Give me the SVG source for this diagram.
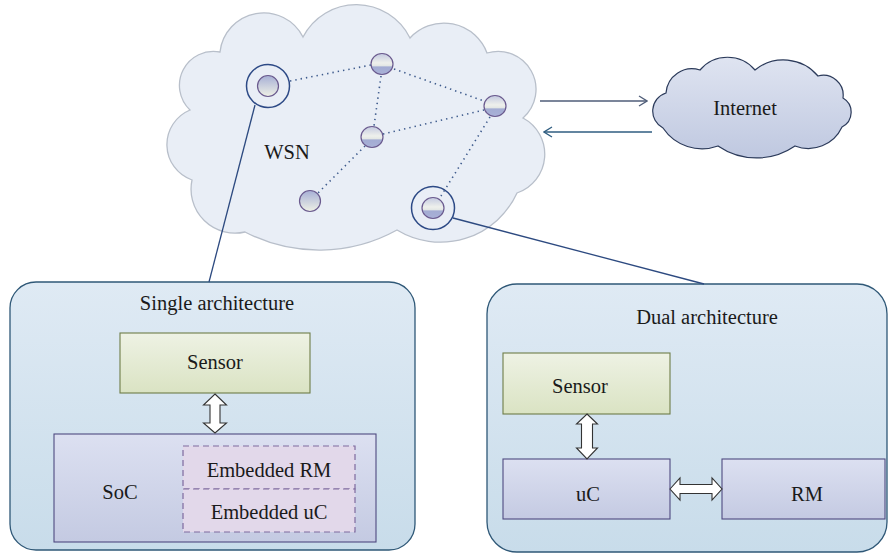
<svg xmlns="http://www.w3.org/2000/svg" width="888" height="554" viewBox="0 0 888 554">
<defs>
<linearGradient id="gArch" x1="0" y1="0" x2="0" y2="1"><stop offset="0" stop-color="#dfeaf4"/><stop offset="1" stop-color="#c8dcea"/></linearGradient>
<linearGradient id="gSensor" x1="0" y1="0" x2="0" y2="1"><stop offset="0" stop-color="#eef2e4"/><stop offset="1" stop-color="#dae3c3"/></linearGradient>
<linearGradient id="gChip" x1="0" y1="0" x2="0" y2="1"><stop offset="0" stop-color="#dce0f1"/><stop offset="1" stop-color="#c4cae2"/></linearGradient>
<linearGradient id="gInet" x1="0" y1="0" x2="0" y2="1"><stop offset="0" stop-color="#dfe4f1"/><stop offset="1" stop-color="#bfc8e0"/></linearGradient>
<linearGradient id="gNodeA" x1="0" y1="0" x2="0" y2="1"><stop offset="0" stop-color="#a6afd5"/><stop offset="1" stop-color="#eff1e6"/></linearGradient>
<linearGradient id="gNodeB" x1="0" y1="0" x2="0" y2="1"><stop offset="0" stop-color="#c3c9e0"/><stop offset="0.45" stop-color="#eef0ec"/><stop offset="0.6" stop-color="#e2e6e4"/><stop offset="0.63" stop-color="#a3acd3"/><stop offset="1" stop-color="#a9b1d7"/></linearGradient>
<marker id="chev" viewBox="0 0 10 12" refX="9" refY="6" markerWidth="10" markerHeight="12" markerUnits="userSpaceOnUse" orient="auto">
<path d="M1,1 L9,6 L1,11" fill="none" stroke="context-stroke" stroke-width="1.3"/>
</marker>
</defs>
<style>
text{font-family:"Liberation Serif","Times New Roman",serif;fill:#1a1a1a;text-anchor:middle;font-size:20.5px}
.arch{fill:url(#gArch);stroke:#2f5877;stroke-width:1.3}
.sensor{fill:url(#gSensor);stroke:#6e7d48;stroke-width:1.1}
.chip{fill:url(#gChip);stroke:#4f4a80;stroke-width:1.1}
.emb{fill:#e2d8ea;stroke:#7e6a9e;stroke-width:1.2;stroke-dasharray:6 4}
.dbl{fill:#ffffff;stroke:#333333;stroke-width:1.1;stroke-linejoin:miter}
.na{fill:url(#gNodeA);stroke:#6a5a8e;stroke-width:1.2}
.nb{fill:url(#gNodeB);stroke:#6a5a8e;stroke-width:1.2}
.ring{fill:none;stroke:#2d4a86;stroke-width:1.5}
.dot{stroke:#3d5a8c;stroke-width:1.6;stroke-dasharray:1.4 4;fill:none}
.link{stroke:#2d4a80;stroke-width:1.3;fill:none}
</style>

<g id="wsn">
<path d="M220,52 A44,44 0 0 1 303,37 A60,60 0 0 1 410,38 A46,46 0 0 1 487,53 A38,38 0 0 1 523,118 A41,41 0 0 1 517,193 A84,84 0 0 1 397,230 A161,161 0 0 1 245,232 A44,44 0 0 1 192,180 A37.5,37.5 0 0 1 190,110 A34,34 0 0 1 220,52 Z" fill="#e9eef6" stroke="#b8bfca" stroke-width="1.3"/>
<text x="287" y="159">WSN</text>
</g>

<g id="internet">
<path d="M666,93 A26,26 0 0 1 700,70 A36,36 0 0 1 755,70 A45,45 0 0 1 818,76 A20,20 0 0 1 843,98 A16.5,16.5 0 0 1 842,127 A37,37 0 0 1 795,146 A68,68 0 0 1 718,146 A47,47 0 0 1 663,128 A19,19 0 0 1 666,93 Z" fill="url(#gInet)" stroke="#2b3a5a" stroke-width="1.2"/>
<text x="745" y="115">Internet</text>
</g>

<g id="node1"><circle class="ring" cx="268" cy="86" r="21.5"/><circle class="na" cx="268" cy="86" r="10.5"/></g>
<g id="node2"><ellipse class="nb" cx="382" cy="64" rx="11" ry="10.5"/></g>
<g id="node3"><ellipse class="nb" cx="495" cy="106" rx="11" ry="10.5"/></g>
<g id="node4"><ellipse class="nb" cx="372" cy="137" rx="11" ry="10.5"/></g>
<g id="node5"><ellipse class="na" cx="310" cy="201" rx="10.5" ry="10.5"/></g>
<g id="node6"><circle class="ring" cx="433" cy="208" r="21.5"/><ellipse class="nb" cx="433" cy="208" rx="11" ry="10.5"/></g>

<g id="single">
<rect class="arch" x="10" y="282" width="405" height="268" rx="26"/>
<text x="217" y="310">Single architecture</text>
</g>
<g id="sensor1">
<rect class="sensor" x="120" y="333" width="190" height="60"/>
<text x="215" y="369">Sensor</text>
</g>
<g id="soc">
<rect class="chip" x="54" y="434" width="322" height="108"/>
<text x="120" y="499">SoC</text>
</g>
<g id="embRM">
<rect class="emb" x="183" y="446" width="172" height="43"/>
<text x="269" y="477">Embedded RM</text>
</g>
<g id="embuC">
<rect class="emb" x="183" y="489" width="172" height="43"/>
<text x="269" y="519">Embedded uC</text>
</g>

<g id="dual">
<rect class="arch" x="487" y="284" width="400" height="268" rx="30"/>
<text x="707" y="324">Dual architecture</text>
</g>
<g id="sensor2">
<rect class="sensor" x="503" y="353" width="167" height="61"/>
<text x="580" y="393">Sensor</text>
</g>
<g id="uC">
<rect class="chip" x="503" y="459" width="167" height="60"/>
<text x="588" y="501">uC</text>
</g>
<g id="RM">
<rect class="chip" x="722" y="459" width="163" height="60"/>
<text x="807" y="501">RM</text>
</g>

<g id="connectors">
<line class="dot" x1="290" y1="81" x2="371" y2="65"/>
<line class="dot" x1="394" y1="69" x2="484" y2="101"/>
<line class="dot" x1="381" y1="76" x2="374" y2="126"/>
<line class="dot" x1="383" y1="134" x2="484" y2="110"/>
<line class="dot" x1="365" y1="146" x2="318" y2="193"/>
<line class="dot" x1="490" y1="117" x2="441" y2="196"/>
<line class="link" x1="255" y1="105" x2="209" y2="282"/>
<line class="link" x1="453" y1="218" x2="704" y2="284"/>
<line x1="540" y1="101" x2="647" y2="101" stroke="#4f5d78" stroke-width="1.3" marker-end="url(#chev)"/>
<line x1="652" y1="132" x2="544" y2="132" stroke="#2f5d80" stroke-width="1.3" marker-end="url(#chev)"/>
<path class="dbl" d="M215,394 L226.5,405 L220,405 L220,423 L226.5,423 L215,433 L203.5,423 L210,423 L210,405 L203.5,405 Z"/>
<path class="dbl" d="M587,414 L597.5,424 L592.5,424 L592.5,448 L597.5,448 L587,459 L576.5,448 L581.5,448 L581.5,424 L576.5,424 Z"/>
<path class="dbl" d="M670,489 L680,478 L680,484.5 L712,484.5 L712,478 L722,489 L712,500 L712,493.5 L680,493.5 L680,500 Z"/>
</g>
</svg>
